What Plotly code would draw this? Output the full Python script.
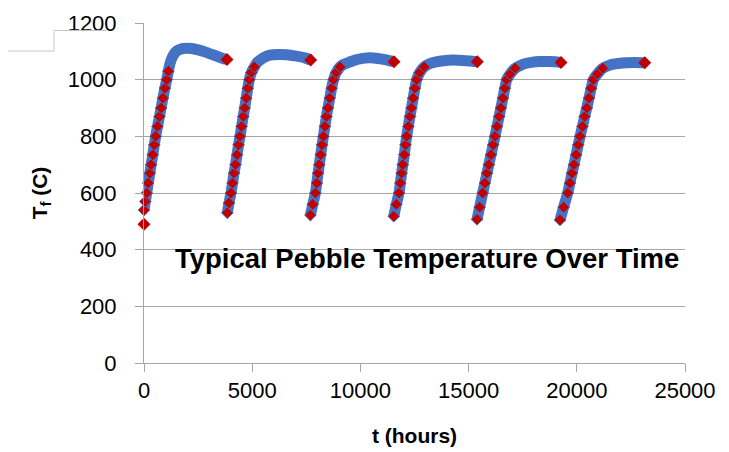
import plotly.graph_objects as go

# ---- data (t in hours, T in deg C) ----
start_t = [0]
start_T = [490]

rise_t = [
    [0, 60, 125, 195, 270, 330, 405, 475, 540, 625, 715, 790, 875, 965, 1050, 1125],
    [3850, 3930, 4020, 4090, 4160, 4230, 4300, 4370, 4436, 4510, 4585, 4650, 4725, 4795, 4866, 4960, 5100],
    [7690, 7800, 7920, 7985, 8045, 8100, 8165, 8230, 8290, 8360, 8430, 8500, 8585, 8670, 8760, 8880, 9060],
    [11540, 11660, 11784, 11845, 11905, 11960, 12030, 12085, 12140, 12215, 12290, 12360, 12440, 12520, 12600, 12740, 12950],
    [15390, 15510, 15650, 15750, 15850, 15935, 16035, 16135, 16220, 16315, 16410, 16490, 16585, 16675, 16760, 16920, 17150],
    [19224, 19390, 19580, 19680, 19780, 19870, 19970, 20065, 20150, 20260, 20365, 20460, 20565, 20665, 20763, 20950, 21200],
]
rise_T = [
    [540, 570, 600, 635, 670, 700, 735, 770, 800, 835, 870, 900, 935, 970, 1000, 1030],
    [530, 565, 600, 635, 670, 700, 735, 770, 800, 835, 870, 900, 935, 970, 1000, 1025, 1045],
    [522, 560, 600, 635, 670, 700, 735, 770, 800, 835, 870, 900, 935, 970, 1000, 1025, 1045],
    [518, 560, 600, 635, 670, 700, 735, 770, 800, 835, 870, 900, 935, 970, 1000, 1025, 1045],
    [507, 550, 600, 635, 670, 700, 735, 770, 800, 835, 870, 900, 935, 970, 1000, 1020, 1040],
    [505, 550, 600, 635, 670, 700, 735, 770, 800, 835, 870, 900, 935, 970, 1000, 1020, 1040],
]
top_t = [
    [1200, 1300, 1400, 1530, 1664, 1800, 1973, 2200, 2500, 2820, 3100, 3400, 3650, 3835],
    [5220, 5360, 5550, 5822, 6206, 6600, 6978, 7440, 7703],
    [9200, 9367, 9600, 9900, 10200, 10443, 10800, 11200, 11553],
    [13216, 13500, 13850, 14293, 14700, 15050, 15402],
    [17530, 17900, 18300, 18700, 19000, 19270],
    [21534, 21900, 22300, 22700, 23140],
]
top_T = [
    [1057, 1078, 1092, 1102, 1107, 1110, 1111, 1110, 1105, 1098, 1090, 1082, 1075, 1071],
    [1060, 1069, 1079, 1087, 1089, 1088, 1084, 1077, 1069],
    [1053, 1058, 1065, 1072, 1076, 1077, 1075, 1070, 1063],
    [1057, 1063, 1067, 1069, 1068, 1066, 1063],
    [1055, 1061, 1064, 1064, 1063, 1061],
    [1052, 1057, 1060, 1061, 1060],
]

x_ticks = [0, 5000, 10000, 15000, 20000, 25000]
y_ticks = [0, 200, 400, 600, 800, 1000, 1200]

BLUE = "#4472C4"
RED = "#C00000"
GRID = "#A6A6A6"
FONT = "Liberation Sans, Arial, sans-serif"

fig = go.Figure()

# blue band (one line per cycle)
band_x, band_y = [], []
for rt, rT, tt, tT in zip(rise_t, rise_T, top_t, top_T):
    band_x += rt + tt + [None]
    band_y += rT + tT + [None]
fig.add_trace(go.Scatter(
    x=band_x, y=band_y, mode="lines", connectgaps=False, cliponaxis=False,
    line=dict(color=BLUE, width=11, shape="spline", smoothing=0.6),
    hoverinfo="skip", showlegend=False))

# red markers on the steep rise
red_x, red_y = [], []
for rt, rT in zip(rise_t, rise_T):
    red_x += rt
    red_y += rT
fig.add_trace(go.Scatter(
    x=red_x, y=red_y, mode="markers", cliponaxis=False,
    marker=dict(symbol="diamond", size=9, color=RED, line=dict(color=BLUE, width=1)),
    showlegend=False))

# red end-of-cycle markers and first point
end_x = start_t + [tt[-1] for tt in top_t]
end_y = start_T + [tT[-1] for tT in top_T]
fig.add_trace(go.Scatter(
    x=end_x, y=end_y, mode="markers", cliponaxis=False,
    marker=dict(symbol="diamond", size=10, color=RED, line=dict(color=RED, width=0)),
    showlegend=False))

fig.add_annotation(
    x=1340, y=370, xref="x", yref="y", xanchor="left", yanchor="middle",
    text="<b>Typical Pebble Temperature Over Time</b>", showarrow=False,
    font=dict(family=FONT, size=27.5, color="#000000"))

# small stray corner line at top-left of the original slide
fig.add_shape(type="path", xref="paper", yref="paper",
              path="M -0.27 0.9175 L -0.1664 0.9175 L -0.1664 0.978 L -0.0684 0.978",
              line=dict(color="#C8C8C8", width=1))

# the page adds an 8px body margin, so the figure is sized to fit inside the window
fig.update_layout(
    template="none",
    width=721, height=444,
    margin=dict(l=136, r=44, t=15, b=89, autoexpand=False),
    paper_bgcolor="white", plot_bgcolor="white",
    font=dict(family=FONT, size=22, color="#000000"),
    xaxis=dict(
        automargin=False,
        range=[0, 25000], tickvals=x_ticks, ticktext=[str(v) for v in x_ticks],
        showgrid=False, zeroline=False, showline=True, linecolor=GRID, linewidth=1,
        ticks="outside", ticklen=8, tickcolor=GRID,
        tickfont=dict(family=FONT, size=22),
        title=dict(text="<b>t (hours)</b>", font=dict(family=FONT, size=21), standoff=25),
    ),
    yaxis=dict(
        automargin=False,
        range=[0, 1200], tickvals=y_ticks, ticktext=[str(v) for v in y_ticks],
        showgrid=True, gridcolor=GRID, gridwidth=1, zeroline=False,
        showline=True, linecolor=GRID, linewidth=1,
        ticks="outside", ticklen=8, tickcolor=GRID, ticklabelstandoff=14,
        tickfont=dict(family=FONT, size=22),
        title=dict(text="<b>T<sub>f</sub> (C)</b>", font=dict(family=FONT, size=21), standoff=14),
    ),
)

fig.write_html("out.html")
